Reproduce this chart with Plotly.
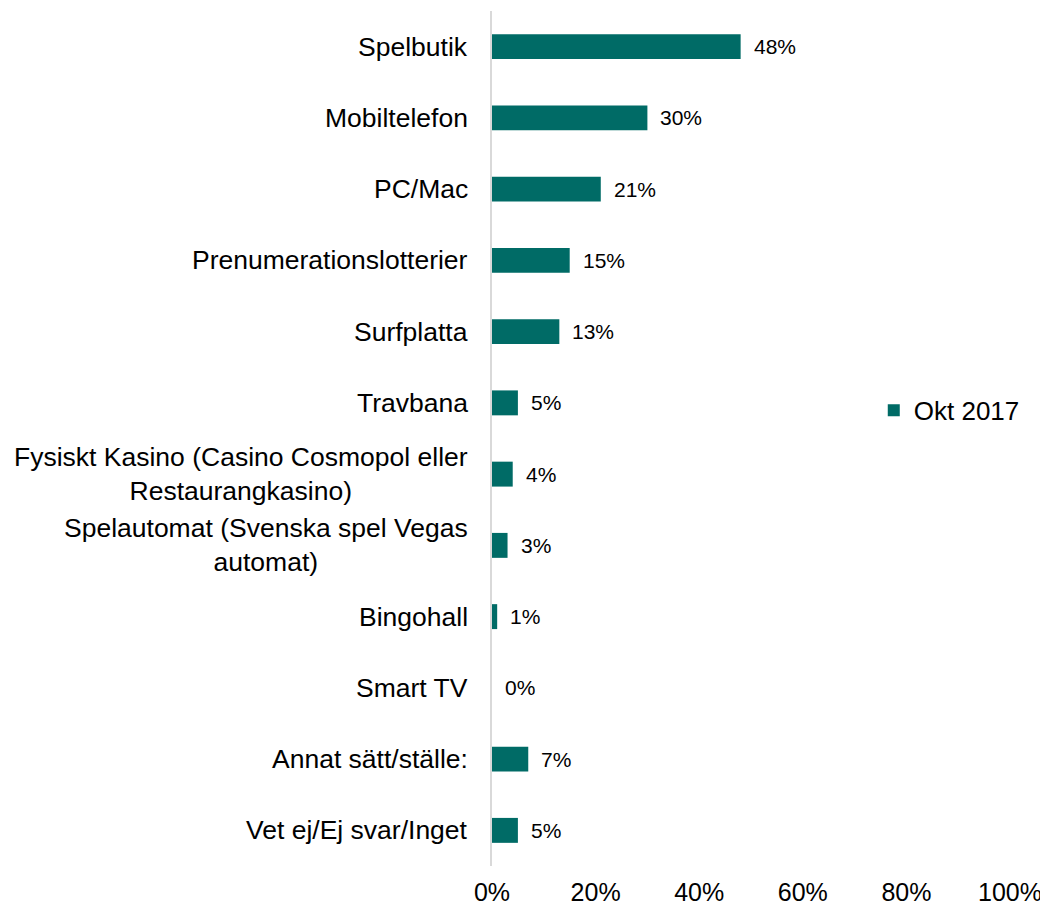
import plotly.graph_objects as go

categories = [
    "Spelbutik",
    "Mobiltelefon",
    "PC/Mac",
    "Prenumerationslotterier",
    "Surfplatta",
    "Travbana",
    "Fysiskt Kasino (Casino Cosmopol eller<br>Restaurangkasino)",
    "Spelautomat (Svenska spel Vegas<br>automat)",
    "Bingohall",
    "Smart TV",
    "Annat sätt/ställe:",
    "Vet ej/Ej svar/Inget",
]
values = [48, 30, 21, 15, 13, 5, 4, 3, 1, 0, 7, 5]
series_name = "Okt 2017"
x_ticks = [0, 20, 40, 60, 80, 100]
x_tick_labels = ["0%", "20%", "40%", "60%", "80%", "100%"]

FONT = "Liberation Sans, Arial, sans-serif"
COLOR = "#006B66"

fig = go.Figure()
fig.add_trace(go.Bar(
    x=values, y=categories, orientation="h", name=series_name,
    marker=dict(color=COLOR, line=dict(width=0)),
    width=0.35, showlegend=True,
))

annotations = []
for c, v in zip(categories, values):
    annotations.append(dict(
        x=v, y=c, xref="x", yref="y", text=f"{v}%", showarrow=False,
        xanchor="left", xshift=11, font=dict(family=FONT, size=21, color="#000000"),
    ))
    annotations.append(dict(
        x=0, y=c, xref="paper", yref="y", text=c, showarrow=False,
        xanchor="right", align="center", xshift=-22,
        font=dict(family=FONT, size=26.5, color="#000000"),
    ))

fig.update_layout(
    width=1040, height=901,
    margin=dict(l=484, r=38, t=3, b=43),
    paper_bgcolor="white", plot_bgcolor="white",
    font=dict(family=FONT, size=26, color="#000000"),
    xaxis=dict(
        range=[0, 100], tickvals=x_ticks, ticktext=x_tick_labels,
        showgrid=False, zeroline=False, showline=False,
        ticks="outside", ticklen=4, tickcolor="white",
        tickfont=dict(family=FONT, size=25, color="#000000"),
        ticklabeloverflow="allow", automargin=False,
        fixedrange=True,
    ),
    yaxis=dict(
        type="category", autorange="reversed", showticklabels=False,
        showgrid=False, zeroline=False, showline=True, automargin=False,
        linecolor="#D9D9D9", linewidth=2, ticks="",
    ),
    legend=dict(
        x=0.737, y=0.533, xanchor="left", yanchor="middle",
        font=dict(family=FONT, size=26, color="#000000"),
        itemwidth=30, bgcolor="rgba(0,0,0,0)",
    ),
    annotations=annotations,
    bargap=0.65,
)

fig.write_html("out.html")
